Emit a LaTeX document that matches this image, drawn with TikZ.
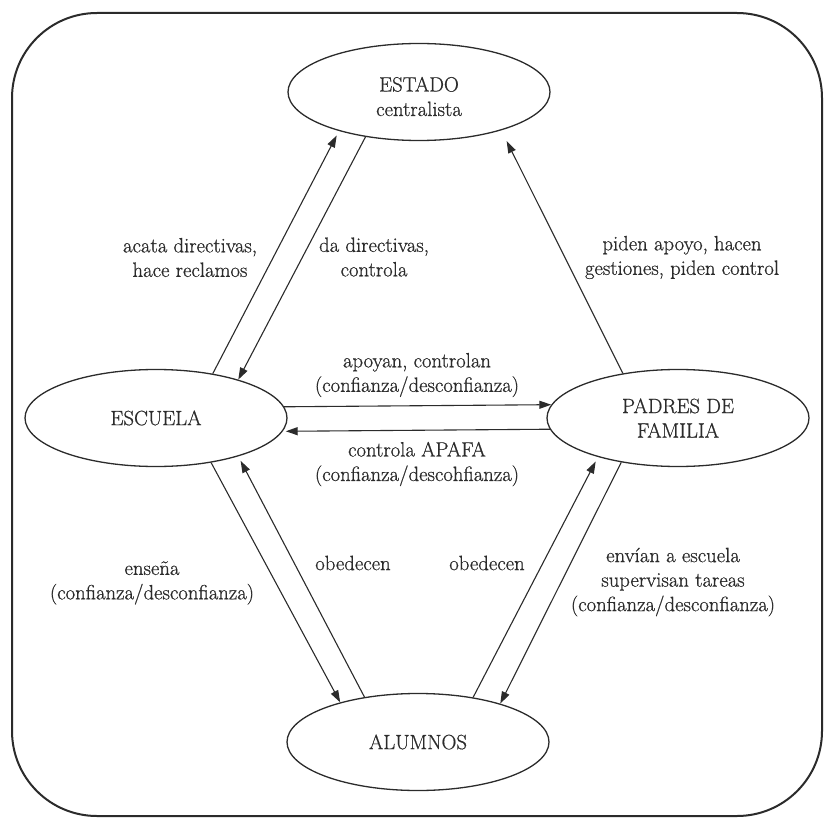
\documentclass[tikz,border=0pt]{standalone}
\usepackage{fontspec}
\usetikzlibrary{shapes.geometric,arrows.meta}
\newfontfamily\diaface{Latin Modern Roman}[FakeBold=0.7]
\definecolor{ink}{HTML}{2B2B2B}
\newcommand\diafont{\diaface\fontsize{20.7}{24.5}\selectfont}
\tikzset{
  ell/.style={ellipse, draw=ink, line width=1.3pt, minimum width=262pt, minimum height=97pt, inner sep=0pt, text=ink, align=center, font=\diafont},
  lbl/.style={text=ink, align=center, font=\diafont, inner sep=0pt},
  arr/.style={draw=ink, line width=1.1pt, -{Triangle[length=12pt,width=8pt]}},
  frame/.style={draw=ink, line width=2pt, rounded corners=85pt}
}
\begin{document}
\begin{tikzpicture}[x=1pt,y=-1pt]
\useasboundingbox (0,0) rectangle (824,818);
\draw[frame] (12,13) rectangle (822,816);

\node[ell] (estado) at (419,92) {};
\node[lbl] (estadoT) at (419,96.5) {ESTADO\\centralista};
\node[ell] (escuela) at (156,418) {ESCUELA};
\node[ell] (padres) at (678,418) {PADRES DE\\FAMILIA};
\node[ell] (alumnos) at (418,742) {ALUMNOS};

\draw[arr, shorten >=5pt] (escuela.38.06) -- (estado.206.1);
\draw[arr] (estado.220.6) -- (escuela.25.2);
\draw[arr, shorten >=12pt] (padres.141.9) -- (estado.335.25);
\draw[arr] (escuela.5.88) -- (padres.174.12);
\draw[arr, shorten >=3pt] (padres.185.88) -- (escuela.354.12);
\draw[arr] (escuela.321.9) -- (alumnos.153.2);
\draw[arr, shorten >=5pt] (alumnos.140.4) -- (escuela.335.25);
\draw[arr, shorten >=5pt] (alumnos.39) -- (padres.206.6);
\draw[arr] (padres.218.7) -- (alumnos.25.9);

\node[lbl] (l1) at (190,257.5) {acata directivas,\\hace reclamos};
\node[lbl] (l2) at (374,257) {da directivas,\\controla};
\node[lbl] (l3) at (682,257.5) {piden apoyo, hacen\\gestiones, piden control};
\node[lbl] (l4) at (417,375) {apoyan, controlan\\(confianza/desconfianza)};
\node[lbl] (l5) at (417,464) {controla APAFA\\(confianza/descohfianza)};
\node[lbl] (l6) at (152,583) {enseña\\(confianza/desconfianza)};
\node[lbl] (l7) at (353,563) {obedecen};
\node[lbl] (l8) at (487,563) {obedecen};
\node[lbl] (l9) at (673,582) {envían a escuela\\supervisan tareas\\(confianza/desconfianza)};
\end{tikzpicture}
\end{document}
